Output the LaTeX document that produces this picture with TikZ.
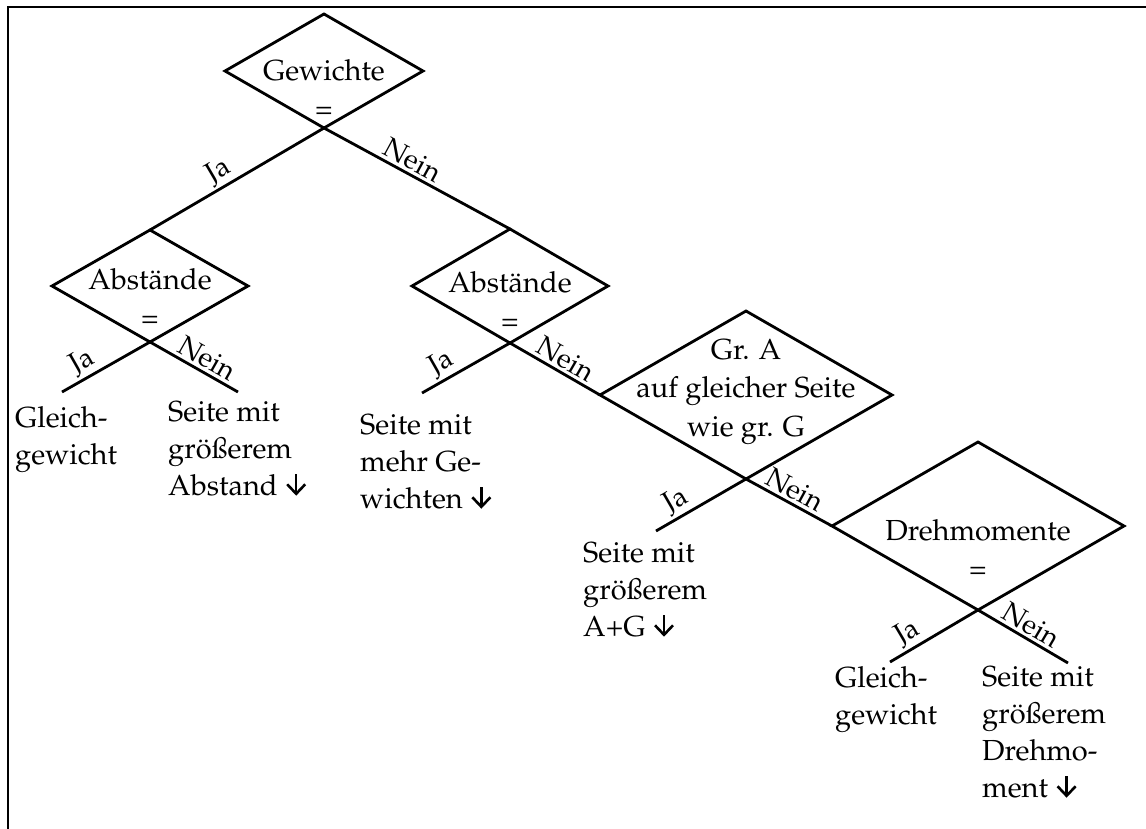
\documentclass[tikz,border=0pt]{standalone}
\usepackage[T1]{fontenc}
\renewcommand{\rmdefault}{ppl}
\usetikzlibrary{shapes.geometric}
\newcommand{\dnarr}{\hspace{1pt}\tikz[baseline=0pt,x=1pt,y=1pt]{\draw[line width=2.6pt] (10,21)--(10,2.5); \draw[line width=2.6pt, line join=miter] (1,11)--(10,1.5)--(19,11);}}
\tikzset{
  conn/.style={line width=2.8pt},
  dia/.style={draw, diamond, line width=2.8pt, inner sep=0pt, outer sep=0pt},
  dtext/.style={align=center, anchor=north, inner sep=0pt, font=\fontsize{29}{38.5}\selectfont},
  leaf/.style={align=left, anchor=north west, inner sep=0pt, font=\fontsize{29}{37}\selectfont},
  lab/.style={sloped, above, inner sep=3pt, outer sep=1pt, font=\fontsize{28}{30}\selectfont},
}
\begin{document}
\begin{tikzpicture}[x=1pt,y=-1pt]
\useasboundingbox (0,0) rectangle (1146,829);
% frame
\draw[line width=2.8pt] (8,829) -- (8,7) -- (1146,7);
% diamonds
\node[dia, minimum width=198pt, minimum height=114pt] (d1) at (324,71) {};
\node[dia, minimum width=196pt, minimum height=112pt] (d2) at (150,286) {};
\node[dia, minimum width=196pt, minimum height=114pt] (d3) at (510,286) {};
\node[dia, minimum width=292pt, minimum height=168pt] (d4) at (746,395) {};
\node[dia, minimum width=292pt, minimum height=168pt] (d5) at (978,526) {};
% diamond texts
\node[dtext] (t1) at (324,59) {Gewichte\\=};
\node[dtext] (t2) at (150,268) {Abst\"ande\\=};
\node[dtext] (t3) at (510,271) {Abst\"ande\\=};
\node[dtext] (t4) at (746,339) {Gr. A\\auf gleicher Seite\\wie gr. G};
\node[dtext] (t5) at (978,519) {Drehmomente\\=};
% free ends
\coordinate (j2) at (62,392);
\coordinate (n2) at (238,392);
\coordinate (j3) at (422,393);
\coordinate (j4) at (656,531);
\coordinate (j5) at (890,662);
\coordinate (n5) at (1068,663);
% connectors
\draw[conn] (d1.south) -- node[lab, pos=0.56] (l1) {Ja} (d2.north);
\draw[conn] (d1.south) -- node[lab, pos=0.44] (l2) {Nein} (d3.north);
\draw[conn] (d2.south) -- node[lab, pos=0.68] (l3) {Ja} (j2);
\draw[conn] (d2.south) -- node[lab, pos=0.57] (l4) {Nein} (n2);
\draw[conn] (d3.south) -- node[lab, pos=0.69] (l5) {Ja} (j3);
\draw[conn] (d3.south) -- node[lab, pos=0.54] (l6) {Nein} (d4.west);
\draw[conn] (d4.south) -- node[lab, pos=0.69] (l7) {Ja} (j4);
\draw[conn] (d4.south) -- node[lab, pos=0.49] (l8) {Nein} (d5.west);
\draw[conn] (d5.south) -- node[lab, pos=0.71] (l9) {Ja} (j5);
\draw[conn] (d5.south) -- node[lab, pos=0.51] (l10) {Nein} (n5);
% leaves
\node[leaf] (e1) at (15,406) {Gleich-\\gewicht};
\node[leaf] (e2) at (168,401) {Seite mit\\gr\"o\ss{}erem\\Abstand \dnarr};
\node[leaf] (e3) at (360,414) {Seite mit\\mehr Ge-\\wichten \dnarr};
\node[leaf] (e4) at (583,542) {Seite mit\\gr\"o\ss{}erem\\A+G \dnarr};
\node[leaf] (e5) at (835,666) {Gleich-\\gewicht};
\node[leaf] (e6) at (982,666) {Seite mit\\gr\"o\ss{}erem\\Drehmo-\\ment \dnarr};
\end{tikzpicture}
\end{document}
